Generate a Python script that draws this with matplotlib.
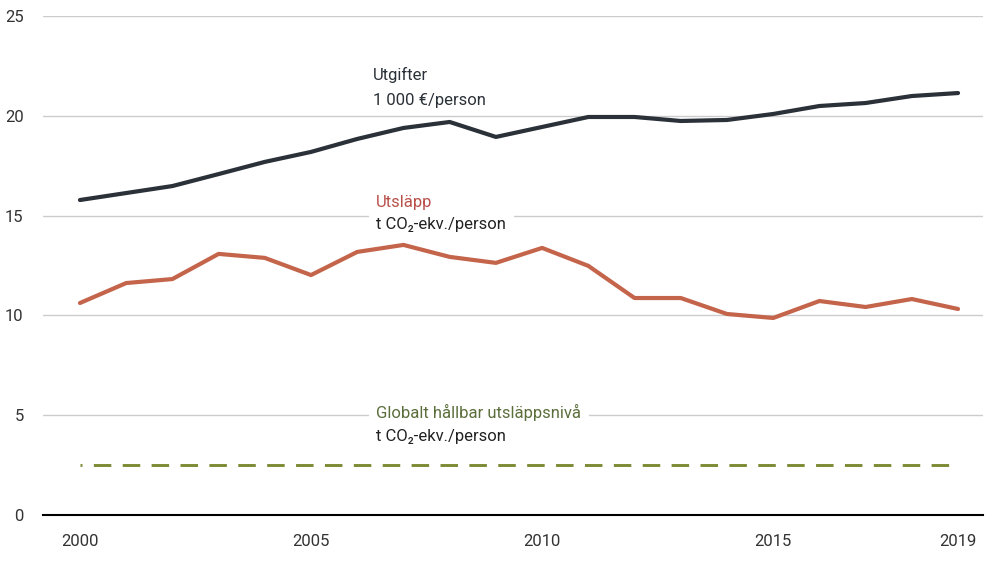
import matplotlib.pyplot as plt

plt.rcParams['font.family'] = ['Roboto', 'DejaVu Sans']

years = list(range(2000, 2020))
utgifter = [15.78, 16.13, 16.48, 17.08, 17.69, 18.19, 18.84, 19.39, 19.69, 18.94,
            19.44, 19.94, 19.94, 19.74, 19.79, 20.09, 20.49, 20.64, 20.99, 21.14]
utslapp = [10.62, 11.62, 11.82, 13.08, 12.88, 12.02, 13.18, 13.53, 12.93, 12.63,
           13.38, 12.48, 10.87, 10.87, 10.07, 9.87, 10.72, 10.42, 10.82, 10.32]
hallbar = [2.5] * len(years)

x_ticks = [2000, 2005, 2010, 2015, 2019]
y_ticks = [0, 5, 10, 15, 20, 25]

dark = '#2b3138'
red = '#c4654b'
red_text = '#b9514a'
olive = '#7d8a34'
olive_text = '#5b6e3c'

fig = plt.figure(figsize=(10, 5.63), dpi=100)
ax = fig.add_axes([0.043, 0.0853, 0.94, 0.8863])

ax.plot(years, utgifter, color=dark, lw=3, solid_capstyle='round', zorder=3)
ax.plot(years, utslapp, color=red, lw=3, solid_capstyle='round', zorder=3)

# dash pattern in points, divided by the line width (dashes scale with lw)
dash_lw = 2.1
on, off = 12.6, 8.2
ax.plot(years, hallbar, color=olive, lw=dash_lw,
        linestyle=((on - 1.4) / dash_lw, (on / dash_lw, off / dash_lw)), zorder=3)

ax.set_xlim(1999.2, 2019.54)
ax.set_ylim(0, 25)
ax.set_xticks(x_ticks)
ax.set_yticks(y_ticks)
ax.grid(axis='y', color='#cccccc', lw=1)
ax.set_axisbelow(True)
for s in ['top', 'right', 'left']:
    ax.spines[s].set_visible(False)
ax.spines['bottom'].set_color('black')
ax.spines['bottom'].set_linewidth(1.5)
ax.tick_params(axis='both', length=0, labelsize=12, colors='#333333')
ax.tick_params(axis='y', pad=14)
ax.tick_params(axis='x', pad=14)

box = dict(facecolor='white', edgecolor='none', boxstyle='square,pad=0.45')
fs = 12

# labels
ax.text(2006.34, 22.04, 'Utgifter', color=dark, fontsize=fs, va='center', zorder=4)
ax.text(2006.34, 20.79, '1 000 €/person', color=dark, fontsize=fs, va='center', zorder=4)

ax.text(2006.41, 14.53, 't CO₂-ekv./person', color='#222222', fontsize=fs,
        va='center', zorder=4, bbox=box)
ax.text(2006.41, 15.68, 'Utsläpp', color=red_text, fontsize=fs, va='center',
        zorder=5, bbox=box)

ax.text(2006.41, 3.91, 't CO₂-ekv./person', color='#222222', fontsize=fs,
        va='center', zorder=4, bbox=box)
ax.text(2006.41, 5.11, 'Globalt hållbar utsläppsnivå', color=olive_text, fontsize=fs,
        va='center', zorder=5, bbox=box)

fig.savefig('out.png', dpi=100)
